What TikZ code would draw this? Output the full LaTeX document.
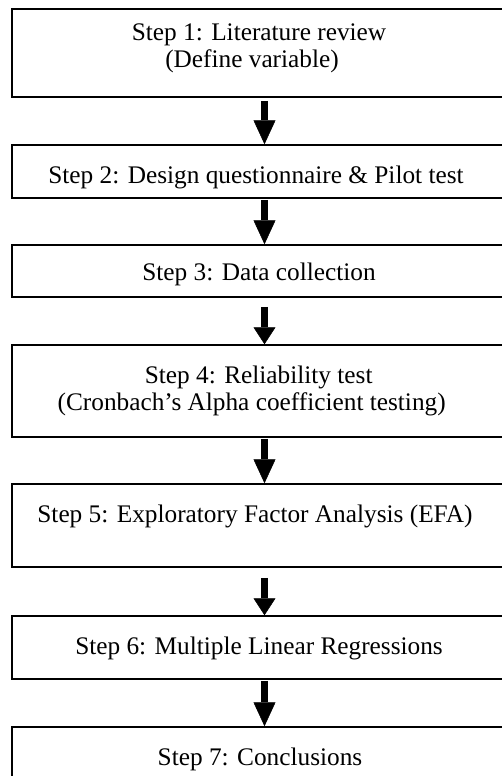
\documentclass[tikz,border=0pt]{standalone}
\usepackage{fontspec}
\setmainfont{Liberation Serif}
\usetikzlibrary{arrows.meta}
\begin{document}
\begin{tikzpicture}[x=1pt,y=-1pt,
  stepbox/.style={draw, line width=1.5pt, rectangle, minimum width=505pt, inner sep=0pt},
  steptext/.style={font=\fontsize{25.3}{26.5}\selectfont, align=center, inner sep=0pt, anchor=base},
  flow/.style={line width=6.5pt, -{Triangle[length=24pt,width=22pt,line width=0.5pt]}},
  flowshort/.style={line width=6.5pt, -{Triangle[length=17pt,width=22pt,line width=0.5pt]}}]
\useasboundingbox (0,0) rectangle (502,776);
\clip (0,0) rectangle (502,776);
\fill[white] (0,0) rectangle (502,776);
% boxes
\node[stepbox, minimum height=88pt] (s1) at (264.5,53) {};
\node[stepbox, minimum height=53pt] (s2) at (264.5,171.5) {};
\node[stepbox, minimum height=52pt] (s3) at (264.5,271) {};
\node[stepbox, minimum height=92pt] (s4) at (264.5,391) {};
\node[stepbox, minimum height=83pt] (s5) at (264.5,525.5) {};
\node[stepbox, minimum height=63pt] (s6) at (264.5,647.5) {};
\node[stepbox, minimum height=73pt] (s7) at (264.5,763.5) {};
% texts (base anchor = baseline of the last line)
\node[steptext] (t1) at (252,67) {\hspace*{14pt}Step 1: Literature review\\(Define variable)};
\node[steptext] (t2) at (256,183) {Step 2: Design questionnaire \& Pilot test};
\node[steptext] (t3) at (259,280) {Step 3: Data collection};
\node[steptext] (t4) at (251.7,410) {\hspace*{14pt}Step 4: Reliability test\\(Cronbach’s Alpha coefficient testing)};
\node[steptext] (t5) at (255,522) {Step 5: Exploratory Factor Analysis (EFA)};
\node[steptext] (t6) at (259,654) {Step 6: Multiple Linear Regressions};
\node[steptext] (t7) at (260,765) {Step 7: Conclusions};
% arrows
\draw[flow] ([yshift=-3pt]s1.south) -- (s2.north);
\draw[flow] ([yshift=-1pt]s2.south) -- (s3.north);
\draw[flowshort] ([yshift=-9pt]s3.south) -- (s4.north);
\draw[flow] ([yshift=-1pt]s4.south) -- (s5.north);
\draw[flowshort] ([yshift=-10pt]s5.south) -- (s6.north);
\draw[flow] ([yshift=-1pt]s6.south) -- (s7.north);
\end{tikzpicture}
\end{document}
